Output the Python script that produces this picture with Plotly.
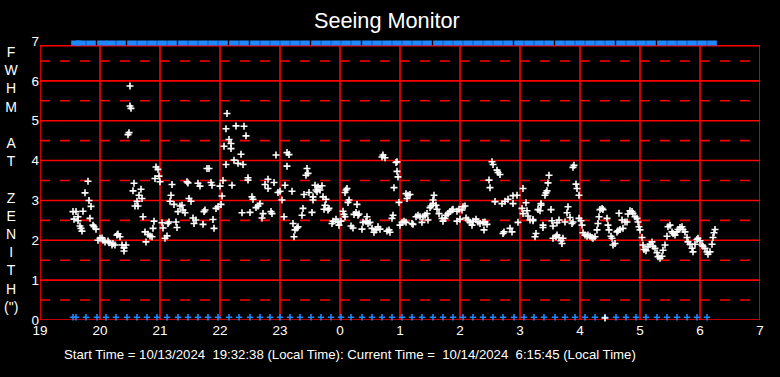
import plotly.graph_objects as go

# Time axis: minutes elapsed since 19:00 local time on 10/13/2024
hour_ticks = [0, 60, 120, 180, 240, 300, 360, 420, 480, 540, 600, 660, 720]
hour_labels = ["19", "20", "21", "22", "23", "0", "1", "2", "3", "4", "5", "6", "7"]
fwhm_ticks = [0, 1, 2, 3, 4, 5, 6, 7]

# FWHM measurements (arcsec) : time in minutes after 19:00
minutes = [
    33, 34, 36, 38, 38, 40, 41, 42, 43, 45, 48, 49, 50, 51, 53, 54, 56, 58, 60, 62,
    63, 65, 68, 69, 72, 73, 75, 77, 78, 80, 82, 84, 84, 86, 88, 89, 90, 90, 91, 93,
    94, 95, 97, 98, 99, 101, 102, 103, 105, 106, 108, 110, 112, 113, 114, 115, 116, 118, 119, 120,
    122, 123, 125, 127, 128, 129, 130, 131, 132, 134, 136, 137, 138, 140, 142, 143, 145, 147, 148, 149,
    151, 153, 154, 156, 158, 160, 163, 164, 165, 167, 169, 171, 172, 173, 174, 176, 178, 180, 181, 182,
    183, 184, 186, 186, 187, 189, 191, 191, 192, 194, 196, 198, 201, 202, 203, 204, 206, 208, 208, 210,
    212, 213, 216, 218, 220, 222, 223, 225, 228, 228, 231, 232, 234, 236, 238, 240, 242, 244, 245, 247,
    247, 249, 252, 253, 254, 255, 257, 258,
    262, 263, 264, 266, 267, 268, 269, 272, 273, 273, 275, 276, 277, 278, 280, 282, 283, 284, 285, 286,
    288, 289, 292, 293, 296, 298, 299, 301, 303, 304, 305, 305, 306, 307, 308, 309, 311, 313, 314, 316,
    317, 318, 319, 322, 323, 326, 327, 328, 330, 332, 334, 336, 338, 340, 342, 343, 345, 347, 349, 350,
    352, 353, 354, 356, 357, 357, 358, 359, 360, 362, 364, 366, 366, 367, 368, 370, 372, 373, 376, 378,
    380, 382, 383, 385, 387, 388, 390, 391, 393, 393, 394, 396, 397, 399, 402, 403, 405, 406, 408, 410,
    412, 413, 417, 417, 419, 420, 422, 423, 425, 426, 428, 430, 432, 433, 436, 438, 440, 443, 444, 445,
    447, 449, 450, 452, 453, 455, 457, 458, 460, 462, 463, 464, 465, 468, 470, 472, 473, 473, 477, 478,
    482, 483, 483, 486, 487, 488, 490, 493, 493, 495, 496, 498, 500, 501, 501, 503, 503, 505, 506, 507,
    508, 509, 511, 512, 513, 513, 516, 517, 517, 519, 519, 521, 522, 523, 525, 527, 528, 530, 532, 533,
    533, 534, 536, 537, 539, 539, 541, 542, 543, 545, 547, 548, 550, 552, 553, 555, 557, 558, 559, 560,
    562, 563, 565, 567, 568, 569, 571, 572, 573, 575, 577, 578, 579, 580, 582, 583, 585, 587, 588, 590,
    592, 593, 595, 597, 598, 599, 600, 602, 603, 604, 606, 608, 610, 612, 613, 615, 617, 618, 620, 622,
    623, 625, 627, 628, 630, 632, 633, 635, 637, 638, 640, 642, 643, 645, 647, 648, 650, 652, 653, 655,
    657, 658, 660, 662, 663, 665, 667, 668, 670, 672, 673, 674, 675,
]
fwhm = [
    2.72, 2.53, 2.72, 2.59, 2.49, 2.36, 2.30, 2.23, 2.73, 3.19, 3.48, 3.00, 2.55, 2.85, 2.38, 2.34, 2.28, 2.00, 2.05, 2.06,
    2.00, 1.96, 1.98, 1.94, 1.88, 1.92, 1.88, 2.13, 2.16, 2.09, 1.88, 1.81, 1.73, 1.88, 4.65, 4.70, 5.87, 5.37, 5.31, 3.24,
    3.43, 2.86, 2.98, 2.86, 3.13, 3.28, 3.05, 2.59, 2.21, 1.96, 2.15, 2.11, 2.09, 2.30, 2.48, 3.55, 3.84, 3.78, 3.61, 3.47,
    2.44, 2.31, 2.05, 2.11, 2.42, 2.46, 2.98, 3.13, 3.40, 2.90, 2.46, 2.32, 2.72, 2.86, 2.88, 2.76, 2.69, 3.47, 3.44, 3.05,
    2.98, 2.56, 2.42, 2.51, 3.43, 3.36, 2.40, 2.72, 2.76, 3.80, 3.80, 3.45, 3.38, 2.52, 2.30, 2.80, 2.84, 3.36, 2.90, 3.11,
    3.50, 4.36, 4.80, 3.90, 5.18, 4.53, 4.43, 4.30, 3.38, 4.01, 4.87, 3.93, 4.16, 2.69, 3.90, 4.86, 4.62, 3.57, 3.51, 2.70,
    3.09, 3.03, 2.82, 2.86, 2.92, 2.56, 2.67, 3.40, 3.53, 3.30, 2.72, 2.67, 3.45, 4.14, 3.20, 3.23, 3.01, 2.59, 3.38, 4.20,
    3.86, 4.15, 3.23, 2.42, 2.09, 2.26, 2.31, 2.34,
    2.63, 2.80, 3.15, 3.63, 3.80, 3.68, 3.20, 2.70, 3.09, 3.01, 3.38, 3.26, 3.22, 3.34, 3.26, 3.37, 3.09, 2.78, 2.88, 3.03,
    2.76, 2.80, 2.42, 2.48, 2.53, 2.45, 2.38, 2.48, 2.73, 2.65, 2.59, 3.20, 3.26, 3.30, 2.95, 3.01, 2.36, 2.31, 2.65, 2.70,
    2.90, 2.63, 2.66, 2.28, 2.45, 2.48, 2.59, 2.42, 2.45, 2.30, 2.20, 2.26, 2.34, 2.28, 4.09, 4.14, 4.07, 2.23, 2.26, 2.20,
    2.55, 2.63, 3.32, 3.95, 3.97, 3.73, 3.59, 2.95, 2.38, 2.45, 2.48, 2.45, 3.17, 3.05, 3.13, 3.15, 2.42, 2.40, 2.59, 2.63,
    2.59, 2.45, 2.59, 2.63, 2.67, 2.51, 2.82, 2.86, 2.92, 3.01, 3.13, 2.88, 2.78, 2.67, 2.55, 2.48, 2.55, 2.63, 2.67, 2.72,
    2.76, 2.78, 2.73, 2.48, 2.78, 2.53, 2.76, 2.84, 2.86, 2.56, 2.51, 2.45, 2.38, 2.48, 2.53, 2.46, 2.42, 2.45, 2.26, 2.46,
    2.40, 3.51, 3.32, 3.97, 3.90, 2.97, 3.76, 3.70, 3.65, 2.92, 2.17, 2.21, 2.98, 3.03, 2.30, 2.21, 2.92, 3.12, 3.13, 2.45,
    2.80, 3.30, 2.67, 2.94, 2.74, 2.61, 2.51, 2.49, 2.52, 2.09, 2.17, 2.77, 2.74, 2.88, 2.92, 2.32, 2.38, 3.13, 3.19, 3.24,
    3.44, 3.63, 2.77, 2.49, 2.36, 2.05, 2.09, 2.13, 2.44, 2.07, 2.51, 1.99, 1.92, 2.05, 2.46, 2.69, 2.84, 2.57, 2.42, 2.46,
    3.83, 3.88, 3.41, 3.30, 3.13, 2.55, 2.49, 2.38, 2.19, 2.13, 2.10, 2.13, 2.10, 2.07, 2.05, 2.09, 2.26, 2.42, 2.59, 2.77,
    2.80, 2.77, 0.05, 2.55, 2.38, 2.26, 2.10, 2.05, 1.88, 1.92, 2.21, 2.24, 2.68, 2.27, 2.51, 2.30, 2.46, 2.46, 2.66, 2.74,
    2.72, 2.68, 2.59, 2.55, 2.46, 2.34, 2.26, 2.07, 1.88, 1.77, 1.74, 1.84, 1.90, 1.96, 1.85, 1.80, 1.69, 1.59, 1.55, 1.60,
    1.75, 1.88, 2.10, 2.34, 2.38, 2.21, 2.17, 2.13, 2.21, 2.27, 2.32, 2.34, 2.27, 2.21, 2.07, 1.96, 1.90, 1.80, 1.71, 1.90,
    2.02, 2.05, 1.99, 1.88, 1.85, 1.80, 1.71, 1.65, 1.71, 1.90, 2.07, 2.19, 2.27,
]

# Status flags drawn along the bottom of the plot (every ~10 minutes)
flag_minutes = [
    33, 36, 46, 57, 66, 76, 87, 97, 107, 117, 127, 138, 148, 158, 168, 178, 189, 199, 210, 220,
    230, 240, 250, 260, 271, 281, 291, 301, 311, 322, 332, 342, 352, 362, 372, 382, 393, 403, 413, 423,
    433, 443, 453, 463, 474, 484, 494, 504, 515, 525, 535, 545, 555, 565, 576, 586, 596, 606, 617, 627,
    637, 647, 657, 667,
]
# Status band segments along the top of the plot
top_band_minutes = [
    36, 41, 51, 62, 71, 81, 92, 102, 112, 122, 132, 143, 153, 163, 173, 183, 194, 204, 215, 225,
    235, 245, 255, 265, 276, 286, 296, 306, 316, 327, 337, 347, 357, 367, 377, 387, 398, 408, 418, 428,
    438, 448, 458, 468, 479, 489, 499, 509, 520, 530, 540, 550, 560, 570, 581, 591, 601, 611, 622, 632,
    642, 652, 662, 672,
]
top_flag_level = 6.95
bottom_flag_level = 0.07

frame_top = 6.88
solid_levels = [1, 2, 3, 4, 5, 6]
dashed_levels = [0.5, 1.5, 2.5, 3.5, 4.5, 5.5, 6.5]

RED = "#ff0000"
BLUE = "#1e88ff"
FONT = "Liberation Sans, Arial, sans-serif"

fig = go.Figure()

fig.add_trace(go.Scatter(
    x=top_band_minutes, y=[top_flag_level] * len(top_band_minutes), mode="markers",
    marker=dict(symbol="line-ew", size=6.9, color=BLUE, line=dict(color=BLUE, width=5)),
    cliponaxis=False, hoverinfo="skip", showlegend=False))
fig.add_trace(go.Scatter(
    x=flag_minutes, y=[bottom_flag_level] * len(flag_minutes), mode="markers",
    marker=dict(symbol="cross-thin", size=4.6, color=BLUE, line=dict(color=BLUE, width=1.6)),
    cliponaxis=False, hoverinfo="skip", showlegend=False))
fig.add_trace(go.Scatter(
    x=minutes, y=fwhm, mode="markers",
    marker=dict(symbol="cross-thin", size=5, color="white", line=dict(color="white", width=1.6)),
    cliponaxis=False, showlegend=False))

shapes = []
for lv in solid_levels:
    shapes.append(dict(type="line", xref="x", yref="y", x0=hour_ticks[0], x1=hour_ticks[-1], y0=lv, y1=lv,
                       line=dict(color=RED, width=1.6), layer="below"))
for lv in dashed_levels:
    shapes.append(dict(type="line", xref="x", yref="y", x0=hour_ticks[0], x1=hour_ticks[-1], y0=lv, y1=lv,
                       line=dict(color=RED, width=1.6, dash="10px,10px"), layer="below"))
for t in hour_ticks[1:-1]:
    shapes.append(dict(type="line", xref="x", yref="y", x0=t, x1=t, y0=0, y1=frame_top,
                       line=dict(color=RED, width=1.6), layer="below"))
shapes.append(dict(type="rect", xref="x", yref="y", x0=hour_ticks[0], x1=hour_ticks[-1], y0=0, y1=frame_top,
                   line=dict(color=RED, width=1.6), layer="below"))

fig.update_layout(
    width=780, height=377,
    paper_bgcolor="black", plot_bgcolor="black",
    margin=dict(l=40, r=20, t=41, b=57, autoexpand=False),
    font=dict(family=FONT, color="white", size=14),
    title=dict(text="Seeing Monitor", x=0.496, xanchor="center", y=0.947, yanchor="middle",
               font=dict(size=21.7, color="white")),
    shapes=shapes,
    xaxis=dict(range=[hour_ticks[0], hour_ticks[-1]], tickvals=hour_ticks, ticktext=hour_labels,
               showgrid=False, zeroline=False, showline=False, ticks="", automargin=False,
               tickfont=dict(family=FONT, size=13.5, color="white")),
    yaxis=dict(range=[0, 7], tickvals=fwhm_ticks, showgrid=False, zeroline=False, showline=False,
               ticks="", automargin=False,
               tickfont=dict(family=FONT, size=13.5, color="white")),
    annotations=[
        dict(text="F<br>W<br>H<br>M<br> <br>A<br>T<br> <br>Z<br>E<br>N<br>I<br>T<br>H<br>(\")",
             xref="paper", yref="paper", x=-0.039, y=0.505, xanchor="center", yanchor="middle",
             showarrow=False, font=dict(size=14, color="white")),
        dict(text="Start Time =\u00a010/13/2024\u00a0\u00a019:32:38 (Local Time): Current Time =\u00a0\u00a010/14/2024\u00a0\u00a06:15:45 (Local Time)",
             xref="paper", yref="paper", x=0.0306, y=-0.125, xanchor="left", yanchor="middle",
             showarrow=False, font=dict(family=FONT, size=13.2, color="white")),
    ],
)

fig.write_html(
    "out.html",
    config={"displayModeBar": False},
    post_script="document.documentElement.style.margin='0';document.body.style.margin='0';"
                "document.body.style.padding='0';document.body.style.background='black';",
)
